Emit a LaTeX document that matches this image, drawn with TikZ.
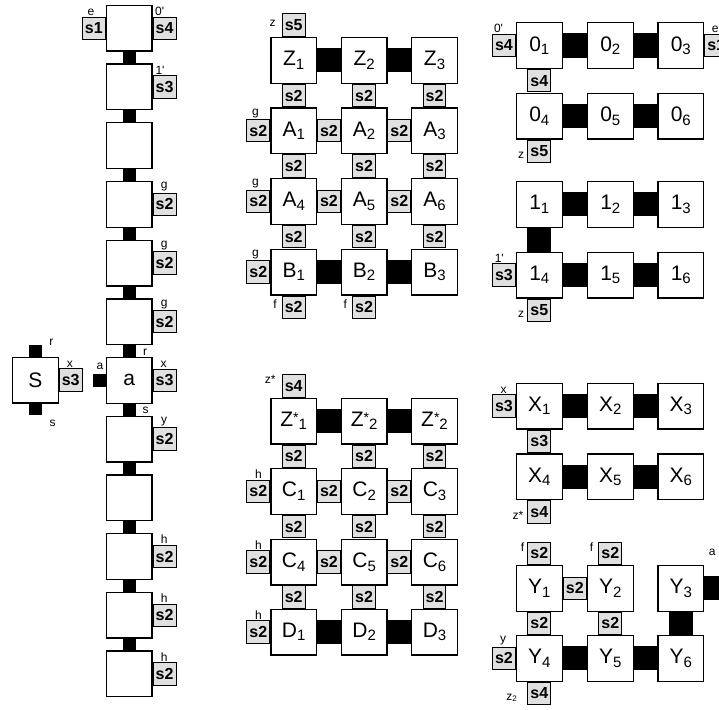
\documentclass[tikz,border=0pt]{standalone}
\usepackage{fontspec}
\setmainfont{Liberation Sans}
\usetikzlibrary{calc}
\newcommand{\mysub}[1]{\raisebox{-3.5pt}{\fontsize{15}{15}\selectfont #1}}
\newcommand{\mystar}{\raisebox{3.5pt}{\fontsize{14}{14}\selectfont *}}
\newcommand{\pr}{\textquotesingle}
\begin{document}
\begin{tikzpicture}[x=1pt,y=-1pt,
  box/.style={draw, line width=1.3pt, fill=white, minimum width=45.7pt, minimum height=45.7pt, inner sep=0pt, font=\fontsize{21}{24}\selectfont},
  tab/.style={draw, line width=1pt, fill=black!12, minimum width=22.8pt, minimum height=22.3pt, inner sep=0pt, font=\fontsize{16}{18}\selectfont\bfseries},
  conn/.style={line width=24pt, black},
  lconn/.style={line width=13pt, black},
  lbl/.style={inner sep=1pt, font=\fontsize{12}{14}\selectfont}]
\useasboundingbox (0,0) rectangle (719,709);

% ---------------- left column ----------------
\foreach \i/\t in {1/{},2/{},3/{},4/{},5/{},6/{},7/a,8/{},9/{},10/{},11/{},12/{}}
  \node[box] (L\i) at (129.2,{28.2+58.7*(\i-1)}) {\t};
\foreach \i in {1,...,11}{\pgfmathtruncatemacro\j{\i+1}\draw[lconn] (L\i.south) -- (L\j.north);}

\node[tab,anchor=east] (L1l) at (L1.west) {s1};
\node[lbl,anchor=south] (L1le) at ($(L1l.north west)+(9,0)$) {e};
\node[tab,anchor=west] (L1r) at (L1.east) {s4};
\node[lbl,anchor=south] (L1rl) at ($(L1r.north west)+(7,0)$) {0\pr};
\node[tab,anchor=west] (L2r) at (L2.east) {s3};
\node[lbl,anchor=south] (L2rl) at ($(L2r.north west)+(7.3,0)$) {1\pr};
\foreach \i/\l in {4/g,5/g,6/g,8/y,10/h,11/h,12/h}{
  \node[tab,anchor=west] (L\i r) at (L\i.east) {s2};
  \node[lbl,anchor=south] (L\i rl) at ($(L\i r.north west)+(11.5,0)$) {\l};
}
\node[tab,anchor=west] (L7r) at (L7.east) {s3};
\node[lbl,anchor=south] (L7rl) at ($(L7r.north west)+(11,0)$) {x};
\coordinate (La) at ($(L7.west)+(-12.4,0)$);
\draw[line width=12.4pt] (L7.west) -- (La);
\node[lbl] (L7a) at ($(La)+(6.7,-14.4)$) {a};
\node[lbl] (L7rr) at ($(L7.north)+(16,-4.7)$) {r};
\node[lbl] (L7ss) at ($(L7.south)+(16.5,6.2)$) {s};

% S box
\node[box] (S) at (35.3,380) {S};
\coordinate (Sr) at ($(S.north)+(0,-11.7)$);
\coordinate (Ss) at ($(S.south)+(0,11.7)$);
\draw[line width=12.7pt] (S.north) -- (Sr);
\draw[line width=12.7pt] (S.south) -- (Ss);
\node[lbl] (Srl) at ($(Sr)+(16,-3)$) {r};
\node[lbl] (Ssl) at ($(Ss)+(17.4,8)$) {s};
\node[tab,anchor=west] (St) at (S.east) {s3};
\node[lbl,anchor=south] (Stl) at ($(St.north west)+(11,0)$) {x};

% ---------------- middle top grid ----------------
\node[box] (Z1) at (293.7,60.3) {Z\mysub{1}};
\node[box] (Z2) at (364.1,60.3) {Z\mysub{2}};
\node[box] (Z3) at (434.5,60.3) {Z\mysub{3}};
\node[box] (A1) at (293.7,130.8) {A\mysub{1}};
\node[box] (A2) at (364.1,130.8) {A\mysub{2}};
\node[box] (A3) at (434.5,130.8) {A\mysub{3}};
\node[box] (A4) at (293.7,201.3) {A\mysub{4}};
\node[box] (A5) at (364.1,201.3) {A\mysub{5}};
\node[box] (A6) at (434.5,201.3) {A\mysub{6}};
\node[box] (B1) at (293.7,272) {B\mysub{1}};
\node[box] (B2) at (364.1,272) {B\mysub{2}};
\node[box] (B3) at (434.5,272) {B\mysub{3}};
\draw[conn] (Z1.east) -- (Z2.west);
\draw[conn] (Z2.east) -- (Z3.west);
\draw[conn] (B1.east) -- (B2.west);
\draw[conn] (B2.east) -- (B3.west);
\foreach \a/\b in {Z1/A1,Z2/A2,Z3/A3,A1/A2,A2/A3,A1/A4,A2/A5,A3/A6,A4/A5,A5/A6,A4/B1,A5/B2,A6/B3}
  \path (\a) -- (\b) node[midway,tab] (t\a\b) {s2};
\foreach \n in {A1,A4,B1}{
  \node[tab,anchor=east] (\n l) at (\n.west) {s2};
  \node[lbl,anchor=south] (\n ll) at ($(\n l.north west)+(9,0)$) {g};
}
\node[tab,anchor=south] (Z1t) at (Z1.north) {s5};
\node[lbl,anchor=north east] (Z1tl) at ($(Z1t.north west)+(-5,5)$) {z};
\foreach \n in {B1,B2}{
  \node[tab,anchor=north] (\n b) at (\n.south) {s2};
  \node[lbl,anchor=north east] (\n bl) at ($(\n b.north west)+(-4,3)$) {f};
}

% ---------------- middle bottom grid ----------------
\node[box] (ZS1) at (293.7,421) {Z\mystar\mysub{1}};
\node[box] (ZS2) at (364.1,421) {Z\mystar\mysub{2}};
\node[box] (ZS3) at (434.5,421) {Z\mystar\mysub{2}};
\node[box] (C1) at (293.7,491.3) {C\mysub{1}};
\node[box] (C2) at (364.1,491.3) {C\mysub{2}};
\node[box] (C3) at (434.5,491.3) {C\mysub{3}};
\node[box] (C4) at (293.7,562) {C\mysub{4}};
\node[box] (C5) at (364.1,562) {C\mysub{5}};
\node[box] (C6) at (434.5,562) {C\mysub{6}};
\node[box] (D1) at (293.7,632) {D\mysub{1}};
\node[box] (D2) at (364.1,632) {D\mysub{2}};
\node[box] (D3) at (434.5,632) {D\mysub{3}};
\draw[conn] (ZS1.east) -- (ZS2.west);
\draw[conn] (ZS2.east) -- (ZS3.west);
\draw[conn] (D1.east) -- (D2.west);
\draw[conn] (D2.east) -- (D3.west);
\foreach \a/\b in {ZS1/C1,ZS2/C2,ZS3/C3,C1/C2,C2/C3,C1/C4,C2/C5,C3/C6,C4/C5,C5/C6,C4/D1,C5/D2,C6/D3}
  \path (\a) -- (\b) node[midway,tab] (t\a\b) {s2};
\foreach \n in {C1,C4,D1}{
  \node[tab,anchor=east] (\n l) at (\n.west) {s2};
  \node[lbl,anchor=south] (\n ll) at ($(\n l.north west)+(12,0)$) {h};
}
\node[tab,anchor=south] (ZS1t) at (ZS1.north) {s4};
\node[lbl,anchor=north east] (ZS1tl) at ($(ZS1t.north west)+(-5,0)$) {z*};

% ---------------- right top ----------------
\node[box] (O1) at (539.3,45.5) {0\mysub{1}};
\node[box] (O2) at (610.3,45.5) {0\mysub{2}};
\node[box] (O3) at (680.8,45.5) {0\mysub{3}};
\node[box] (O4) at (539.3,116) {0\mysub{4}};
\node[box] (O5) at (610.3,116) {0\mysub{5}};
\node[box] (O6) at (680.8,116) {0\mysub{6}};
\draw[conn] (O1.east) -- (O2.west);
\draw[conn] (O2.east) -- (O3.west);
\draw[conn] (O4.east) -- (O5.west);
\draw[conn] (O5.east) -- (O6.west);
\path (O1) -- (O4) node[midway,tab] (tO1O4) {s4};
\node[tab,anchor=east] (O1l) at (O1.west) {s4};
\node[lbl,anchor=south] (O1ll) at ($(O1l.north west)+(6.5,0)$) {0\pr};
\node[tab,anchor=west] (O3r) at (O3.east) {s1};
\node[lbl,anchor=south] (O3rl) at ($(O3r.north west)+(11,0)$) {e};
\node[tab,anchor=north] (O4b) at (O4.south) {s5};
\node[lbl,anchor=south east] (O4bl) at ($(O4b.south west)+(-2,-3)$) {z};

\node[box] (I1) at (539.3,204.3) {1\mysub{1}};
\node[box] (I2) at (610.3,204.3) {1\mysub{2}};
\node[box] (I3) at (680.8,204.3) {1\mysub{3}};
\node[box] (I4) at (539.3,275) {1\mysub{4}};
\node[box] (I5) at (610.3,275) {1\mysub{5}};
\node[box] (I6) at (680.8,275) {1\mysub{6}};
\draw[conn] (I1.east) -- (I2.west);
\draw[conn] (I2.east) -- (I3.west);
\draw[conn] (I4.east) -- (I5.west);
\draw[conn] (I5.east) -- (I6.west);
\draw[conn] (I1.south) -- (I4.north);
\node[tab,anchor=east] (I4l) at (I4.west) {s3};
\node[lbl,anchor=south] (I4ll) at ($(I4l.north west)+(7.3,0)$) {1\pr};
\node[tab,anchor=north] (I4b) at (I4.south) {s5};
\node[lbl,anchor=south east] (I4bl) at ($(I4b.south west)+(-2,-3)$) {z};

% ---------------- right bottom ----------------
\node[box] (X1) at (539.3,406) {X\mysub{1}};
\node[box] (X2) at (610.3,406) {X\mysub{2}};
\node[box] (X3) at (680.8,406) {X\mysub{3}};
\node[box] (X4) at (539.3,476.7) {X\mysub{4}};
\node[box] (X5) at (610.3,476.7) {X\mysub{5}};
\node[box] (X6) at (680.8,476.7) {X\mysub{6}};
\draw[conn] (X1.east) -- (X2.west);
\draw[conn] (X2.east) -- (X3.west);
\draw[conn] (X4.east) -- (X5.west);
\draw[conn] (X5.east) -- (X6.west);
\path (X1) -- (X4) node[midway,tab] (tX1X4) {s3};
\node[tab,anchor=east] (X1l) at (X1.west) {s3};
\node[lbl,anchor=south] (X1ll) at ($(X1l.north west)+(11.5,0)$) {x};
\node[tab,anchor=north] (X4b) at (X4.south) {s4};
\node[lbl,anchor=south east] (X4bl) at ($(X4b.south west)+(-3,-3)$) {z*};

\node[box] (Y1) at (539.3,588.3) {Y\mysub{1}};
\node[box] (Y2) at (610.3,588.3) {Y\mysub{2}};
\node[box] (Y3) at (680.8,588.3) {Y\mysub{3}};
\node[box] (Y4) at (539.3,658.3) {Y\mysub{4}};
\node[box] (Y5) at (610.3,658.3) {Y\mysub{5}};
\node[box] (Y6) at (680.8,658.3) {Y\mysub{6}};
\draw[conn] (Y4.east) -- (Y5.west);
\draw[conn] (Y5.east) -- (Y6.west);
\draw[conn] (Y3.south) -- (Y6.north);
\coordinate (Ya) at ($(Y3.east)+(24,0)$);
\draw[conn] (Y3.east) -- (Ya);
\node[lbl,anchor=south] (Yal) at ($(Y3.north east)+(8,-8)$) {a};
\foreach \a/\b in {Y1/Y2,Y1/Y4,Y2/Y5}
  \path (\a) -- (\b) node[midway,tab] (t\a\b) {s2};
\node[tab,anchor=south] (Y1t) at (Y1.north) {s2};
\node[lbl,anchor=north east] (Y1tl) at ($(Y1t.north west)+(-2,0)$) {f};
\node[tab,anchor=south] (Y2t) at (Y2.north) {s2};
\node[lbl,anchor=north east] (Y2tl) at ($(Y2t.north west)+(-4,0)$) {f};
\node[tab,anchor=east] (Y4l) at (Y4.west) {s2};
\node[lbl,anchor=south] (Y4ll) at ($(Y4l.north west)+(11,0)$) {y};
\node[tab,anchor=north] (Y4b) at (Y4.south) {s4};
\node[lbl,anchor=south east] (Y4bl) at ($(Y4b.south west)+(-9,-2)$) {z\textsubscript{2}};
\end{tikzpicture}
\end{document}
